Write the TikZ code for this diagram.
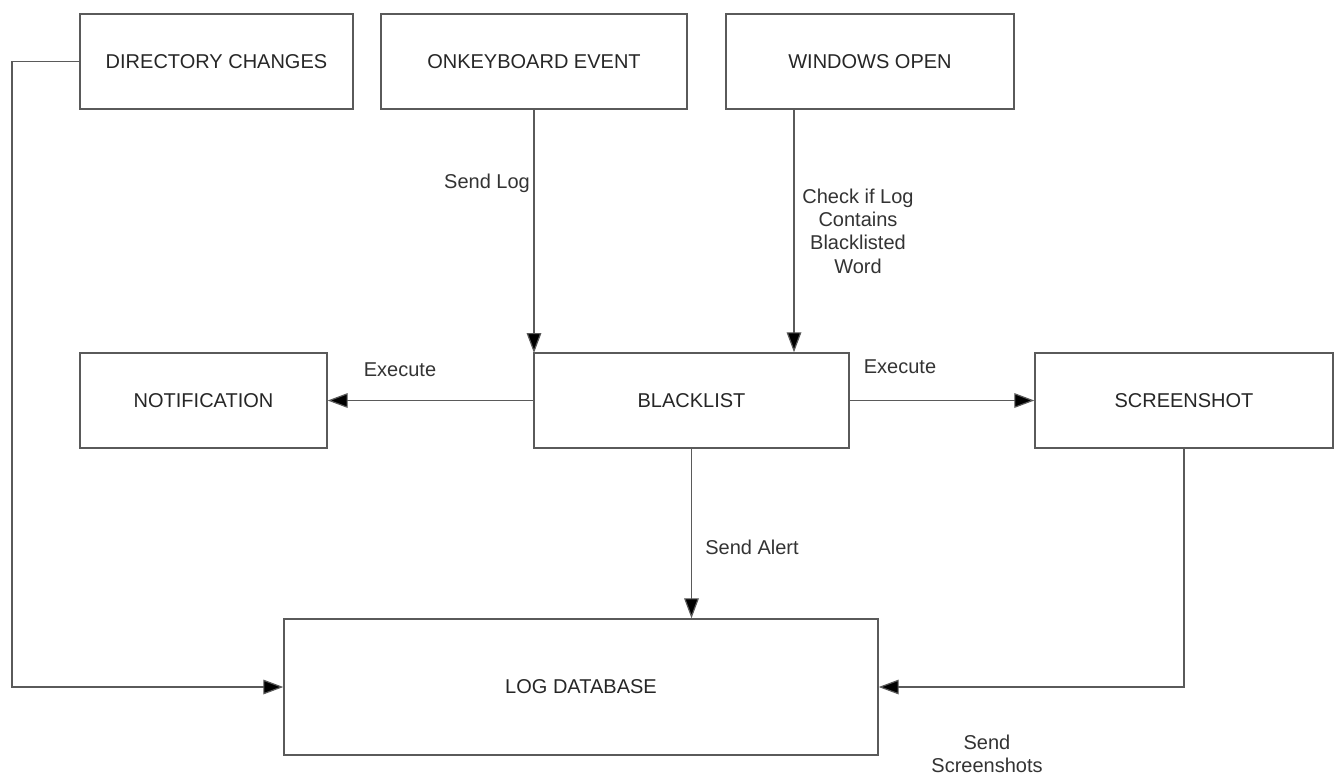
\documentclass[tikz,border=0pt]{standalone}
\usepackage{fontspec}
\setmainfont{Liberation Sans}
\usepackage{tikz}
\usetikzlibrary{arrows.meta}
\definecolor{linegray}{RGB}{90,90,90}

\begin{document}
\begin{tikzpicture}[x=0.75pt,y=-0.75pt,font=\fontsize{15}{17.5}\selectfont]
      \useasboundingbox(0,0) rectangle (1340,776);
      \tikzset{B/.style 2 args = {shape=rectangle, draw=linegray, line width=1.1pt, text=black!85,
          minimum width=#1*0.75pt, minimum height=#2*0.75pt, inner sep=0pt}}
      \tikzset{E/.style = {draw=linegray,line width=0.9pt,-{Triangle[length=15pt,width=11pt,fill=black]}}}
      \tikzset{L/.style = {text=black!80, align=center, inner sep=0pt}}
      \node[B={273}{95}](dir) at (216.5,61.5) {DIRECTORY CHANGES};
      \node[B={306}{95}](key) at (534,61.5) {ONKEYBOARD EVENT};
      \node[B={288}{95}](win) at (870,61.5) {WINDOWS OPEN};
      \node[B={247}{95}](notif) at (203.5,400.5) {NOTIFICATION};
      \node[B={315}{95}](black) at (691.5,400.5) {BLACKLIST};
      \node[B={298}{95}](shot) at (1184,400.5) {SCREENSHOT};
      \node[B={594}{136}](logdb) at (581,687) {LOG DATABASE};
      \coordinate(dirturn) at (12,61.5);
      \coordinate(keyin) at (534,353);
      \coordinate(winout) at (794,109);
      \node[L](sendlog) at (487,183) {Send Log};
      \node[L](check) at (858,231) {Check if Log\\Contains\\Blacklisted\\Word};
      \node[L](execl) at (400,370) {Execute};
      \node[L](execr) at (900,367) {Execute};
      \node[L](alert) at (752,547) {Send Alert};
      \node[L](shots) at (987,754) {Send\\Screenshots};
      \draw[E](dir.west) -- (dirturn) |- (logdb.west);
      \draw[E](key.south) to (keyin);
      \draw[E](winout) to (winout |- black.north);
      \draw[E](black.west) to (notif.east);
      \draw[E](black.east) to (shot.west);
      \draw[E](black.south) to (black.south |- logdb.north);
      \draw[E](shot.south) |- (logdb.east);
    \end{tikzpicture}
\end{document}
